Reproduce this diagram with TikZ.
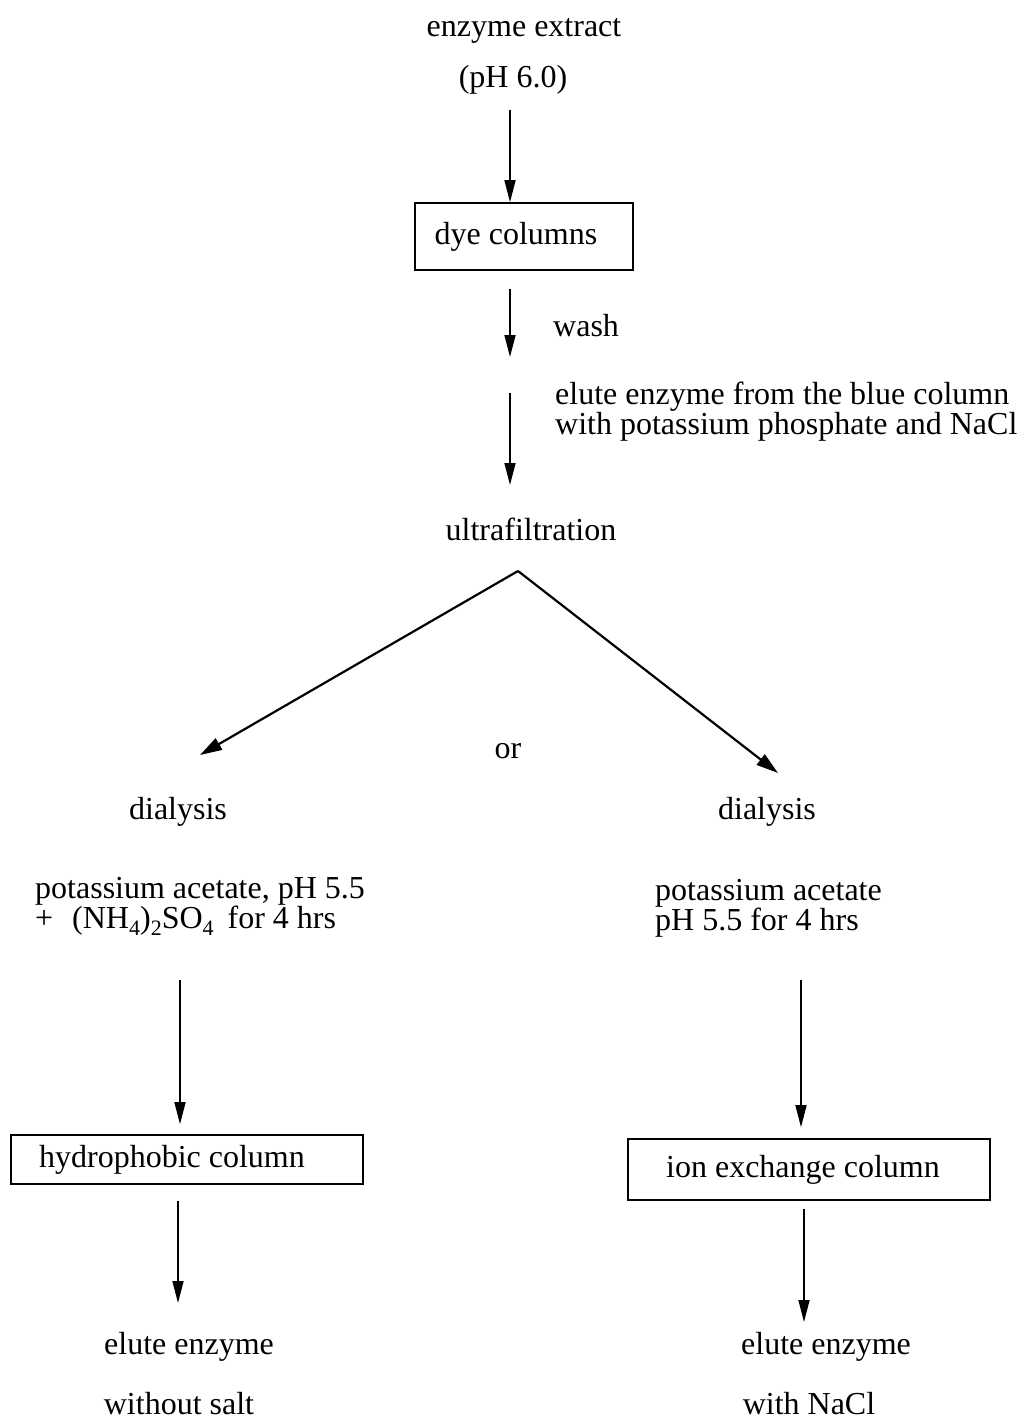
\documentclass[tikz,border=0pt]{standalone}
\usepackage{fontspec}
\setmainfont{Liberation Serif}
\usetikzlibrary{arrows.meta}
\begin{document}
\begin{tikzpicture}[x=1pt,y=-1pt,
  every node/.style={font=\fontsize{32}{30}\selectfont, inner sep=0pt},
  boxnode/.style={draw, line width=1.6pt, inner sep=0pt},
  arr/.style={line width=1.5pt, -{Triangle[length=22pt,width=11pt]}},
  diag/.style={line width=2.2pt, -{Triangle[length=22pt,width=13pt]}},
]
\useasboundingbox (0,0) rectangle (1031,1424);
\newcommand{\sbs}[1]{\raisebox{-7pt}{\fontsize{22}{22}\selectfont #1}}
\newcommand{\padr}[1]{\hspace*{#1}\mbox{}}

% top part
\node (ee) at (524,31) {enzyme extract};
\node (ph) at (513,80) {(pH 6.0)};
\node[boxnode, minimum width=218pt, minimum height=67pt] (dye) at (524,236.5) {dye columns\padr{16pt}};
\coordinate (a1s) at (510,110);
\draw[arr] (a1s) -- (a1s |- dye.north);

\coordinate (a2e) at (510,357);
\draw[arr, shorten <=18pt] (a2e |- dye.south) -- (a2e);
\node[anchor=west] (wash) at (553,326) {wash};

\coordinate (a3s) at (510,393);
\coordinate (a3e) at (510,485);
\draw[arr] (a3s) -- (a3e);
\node[anchor=west, align=left] (elute) at (555,412) {elute enzyme from the blue column\\with potassium phosphate and NaCl};

\node (uf) at (531,529) {ultrafiltration};

% split
\coordinate (apex) at (518,571);
\coordinate (tl) at (200,755);
\coordinate (tr) at (778,773);
\draw[diag] (apex) -- (tl);
\draw[diag] (apex) -- (tr);
\node (or) at (508,751) {or};

\node (dl) at (178,812) {dialysis};
\node (dr) at (767,812) {dialysis};

\node[anchor=west, align=left] (pl) at (35,906) {potassium acetate, pH 5.5\\+\hspace{19pt}(NH\sbs{4})\sbs{2}SO\sbs{4}\hspace{14pt}for 4 hrs};
\node[anchor=west, align=left] (pr) at (655,908) {potassium acetate\\pH 5.5 for 4 hrs};

% columns
\node[boxnode, minimum width=352pt, minimum height=49pt] (hyd) at (187,1159.5) {hydrophobic column\padr{30pt}};
\node[boxnode, minimum width=362pt, minimum height=61pt] (ion) at (809,1169.5) {ion exchange column\padr{12pt}};

\coordinate (a4s) at (180,980);
\draw[arr, shorten >=10pt] (a4s) -- (a4s |- hyd.north);
\coordinate (a5s) at (801,980);
\draw[arr, shorten >=11pt] (a5s) -- (a5s |- ion.north);

\coordinate (a6e) at (178,1303);
\draw[arr, shorten <=16pt] (a6e |- hyd.south) -- (a6e);
\coordinate (a7e) at (804,1322);
\draw[arr, shorten <=8pt] (a7e |- ion.south) -- (a7e);

\node (el) at (189,1347) {elute enzyme};
\node (ws) at (179,1404) {without salt};
\node (er) at (826,1347) {elute enzyme};
\node (wn) at (809,1404) {with NaCl};
\end{tikzpicture}
\end{document}
